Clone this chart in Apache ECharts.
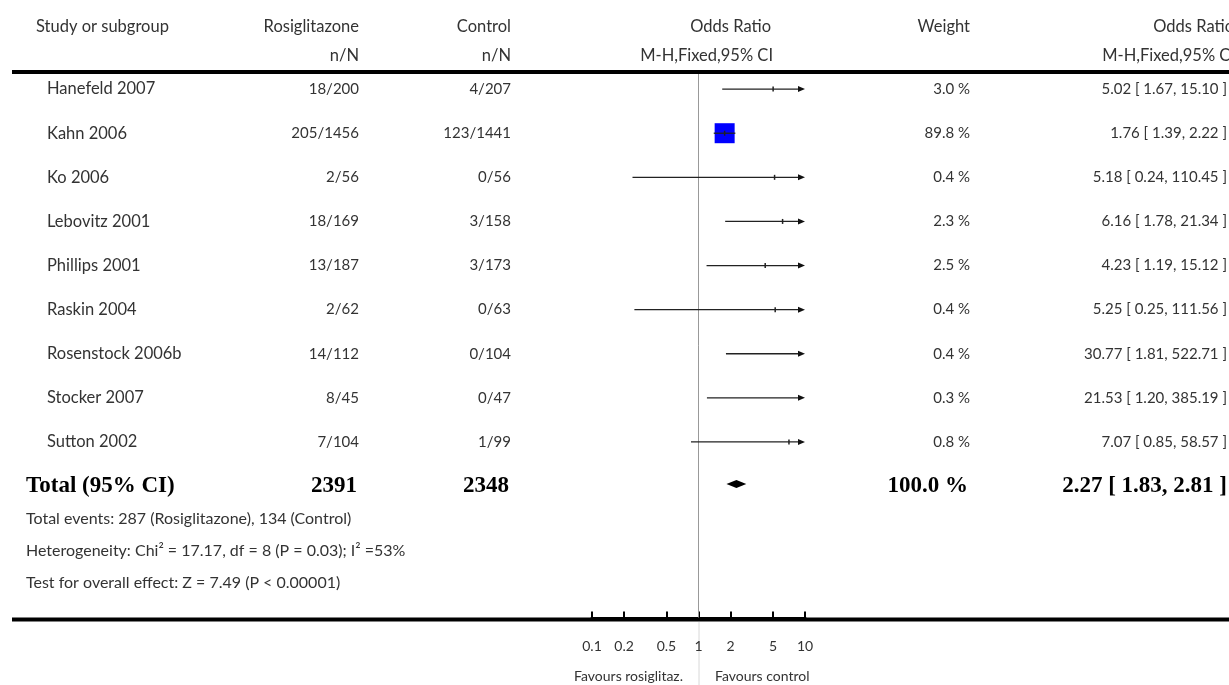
<!DOCTYPE html>
<html><head><meta charset="utf-8">
<script src="https://cdn.jsdelivr.net/npm/echarts@6/dist/echarts.min.js"></script>
<style>html,body{margin:0;padding:0;background:#fff}#c{width:1229px;height:685px}</style>
</head><body><div id="c"></div>
<script>
// ---------- data ----------
const studies = ['Hanefeld 2007','Kahn 2006','Ko 2006','Lebovitz 2001','Phillips 2001','Raskin 2004','Rosenstock 2006b','Stocker 2007','Sutton 2002'];
const rosiN = ['18/200','205/1456','2/56','18/169','13/187','2/62','14/112','8/45','7/104'];
const ctrlN = ['4/207','123/1441','0/56','3/158','3/173','0/63','0/104','0/47','1/99'];
const weights = [3.0, 89.8, 0.4, 2.3, 2.5, 0.4, 0.4, 0.3, 0.8];
const oddsRatio = [5.02, 1.76, 5.18, 6.16, 4.23, 5.25, 30.77, 21.53, 7.07];
const ciLow = [1.67, 1.39, 0.24, 1.78, 1.19, 0.25, 1.81, 1.20, 0.85];
const ciHigh = [15.10, 2.22, 110.45, 21.34, 15.12, 111.56, 522.71, 385.19, 58.57];
const totalLabel = 'Total (95% CI)';
const totalRosi = '2391';
const totalCtrl = '2348';
const totalWeight = 100.0;
const totalOR = 2.27, totalLow = 1.83, totalHigh = 2.81;
const footerLines = [
  'Total events: 287 (Rosiglitazone), 134 (Control)',
  'Heterogeneity: Chi\u00B2 = 17.17, df = 8 (P = 0.03); I\u00B2 =53%',
  'Test for overall effect: Z = 7.49 (P < 0.00001)'
];
const tickValues = [0.1, 0.2, 0.5, 1, 2, 5, 10];
const favoursLeft = 'Favours rosiglitaz.';
const favoursRight = 'Favours control';

// ---------- helpers ----------
const L10 = v => Math.log10(v);
const XMIN = L10(tickValues[0]), XMAX = L10(tickValues[tickValues.length - 1]);
const SANS = 'Lato, "Open Sans", "DejaVu Sans", sans-serif';
const SERIF = '"Liberation Serif", "DejaVu Serif", serif';
const TXT = '#333';
const WORD = 16.5, NUM = 15;
const fmt2 = v => v.toFixed(2);
const orText = (m, l, h) => fmt2(m) + ' [ ' + fmt2(l) + ', ' + fmt2(h) + ' ]';
const totalRow = studies.length;

function txt(x, y, s, align, opts) {
  opts = opts || {};
  return {
    type: 'text', x: x, y: y, silent: true,
    style: {
      text: s, fill: opts.fill || TXT, align: align, verticalAlign: 'middle',
      fontSize: opts.size || WORD, fontFamily: opts.family || SANS, fontWeight: opts.weight || 'normal'
    }
  };
}

const chart = echarts.init(document.getElementById('c'), null, { renderer: 'canvas' });

const studyData = studies.map((s, i) => [i, L10(oddsRatio[i]), L10(ciLow[i]), L10(ciHigh[i]), weights[i]]);
const maxW = Math.max.apply(null, weights);

const option = {
  animation: false,
  backgroundColor: '#fff',
  grid: { left: 592, width: 213, top: 45, height: 573.4 },
  xAxis: {
    type: 'value', min: XMIN, max: XMAX, position: 'bottom',
    splitLine: { show: false },
    axisLine: { show: true, onZero: false, lineStyle: { color: '#000', width: 4 } },
    axisTick: { show: true, inside: true, length: 7, customValues: tickValues.map(L10), lineStyle: { color: '#000', width: 2 } },
    axisLabel: {
      show: true, customValues: tickValues.map(L10), margin: 21, color: TXT, fontSize: 14, fontFamily: SANS,
      formatter: v => { const t = tickValues.find(t => Math.abs(L10(t) - v) < 1e-6); return t === undefined ? '' : String(t); }
    }
  },
  yAxis: { type: 'value', inverse: true, min: -1, max: 12, show: false },
  graphic: [
    { type: 'line', shape: { x1: 12, y1: 72, x2: 1229, y2: 72 }, style: { stroke: '#000', lineWidth: 4 }, z: 10 },
    { type: 'line', shape: { x1: 12, y1: 619.5, x2: 1229, y2: 619.5 }, style: { stroke: '#000', lineWidth: 4 }, z: 10 },
    { type: 'line', shape: { x1: 699, y1: 622, x2: 699, y2: 685 }, style: { stroke: '#d8d8d8', lineWidth: 1 } },
    txt(36, 27, 'Study or subgroup', 'left'),
    txt(359, 27, 'Rosiglitazone', 'right'),
    txt(359, 56, 'n/N', 'right'),
    txt(511, 27, 'Control', 'right'),
    txt(511, 56, 'n/N', 'right'),
    txt(771, 27, 'Odds Ratio', 'right'),
    txt(773, 56, 'M-H,Fixed,95% CI', 'right'),
    txt(970, 27, 'Weight', 'right'),
    txt(1234, 27, 'Odds Ratio', 'right'),
    txt(1235, 56, 'M-H,Fixed,95% CI', 'right'),
    txt(26, 519, footerLines[0], 'left', { size: 16 }),
    txt(26, 551, footerLines[1], 'left', { size: 16 }),
    txt(26, 583, footerLines[2], 'left', { size: 16 }),
    txt(683, 676, favoursLeft, 'right', { size: 14 }),
    txt(715, 676, favoursRight, 'left', { size: 14 })
  ],
  series: [
    {
      type: 'custom', clip: false, z: 5,
      encode: { x: [1, 2, 3], y: 0 },
      data: studyData,
      renderItem: function (params, api) {
        const i = api.value(0);
        const m = api.value(1), lo = api.value(2), hi = api.value(3), w = api.value(4);
        const y = api.coord([0, i])[1];
        const xl = api.coord([Math.max(lo, XMIN), i])[0];
        const xr = api.coord([Math.min(hi, XMAX), i])[0];
        const ch = [];
        const inRange = m >= XMIN && m <= XMAX;
        if (inRange) {
          const s = 20 * Math.sqrt(w / maxW);
          const xm = api.coord([m, i])[0];
          if (s > 6) ch.push({ type: 'rect', shape: { x: xm - s / 2, y: y - s / 2, width: s, height: s }, style: { fill: '#0000ff' } });
        }
        ch.push({ type: 'line', shape: { x1: xl, y1: y, x2: xr - (hi > XMAX ? 3 : 0), y2: y }, style: { stroke: '#222', lineWidth: 1.3 } });
        if (hi > XMAX) ch.push({ type: 'polygon', shape: { points: [[xr, y], [xr - 7, y - 3], [xr - 7, y + 3]] }, style: { fill: '#111' } });
        if (lo < XMIN) ch.push({ type: 'polygon', shape: { points: [[xl, y], [xl + 7, y - 3], [xl + 7, y + 3]] }, style: { fill: '#111' } });
        if (inRange) {
          const xm = api.coord([m, i])[0];
          ch.push({ type: 'line', shape: { x1: xm, y1: y - 2.5, x2: xm, y2: y + 2.5 }, style: { stroke: '#222', lineWidth: 1.5 } });
        }
        ch.push(txt(47, y, studies[i], 'left'));
        ch.push(txt(359, y, rosiN[i], 'right', { size: NUM }));
        ch.push(txt(511, y, ctrlN[i], 'right', { size: NUM }));
        ch.push(txt(970, y, weights[i].toFixed(1) + ' %', 'right', { size: NUM }));
        ch.push(txt(1227, y, orText(oddsRatio[i], ciLow[i], ciHigh[i]), 'right', { size: NUM }));
        return { type: 'group', children: ch };
      }
    },
    {
      type: 'custom', clip: false, z: 4,
      encode: { x: [1, 2, 3], y: 0 },
      data: [[totalRow, L10(totalOR), L10(totalLow), L10(totalHigh)]],
      renderItem: function (params, api) {
        const r = api.value(0);
        const y = api.coord([0, r])[1];
        const xm = api.coord([api.value(1), r])[0];
        const xl = api.coord([api.value(2), r])[0];
        const xr = api.coord([api.value(3), r])[0];
        const x0 = api.coord([0, r])[0];
        const top = api.coord([0, -0.36])[1];
        const bot = api.coord([0, 12])[1];
        const B = { size: 23, family: SERIF, weight: 'bold', fill: '#000' };
        return {
          type: 'group', children: [
            { type: 'line', shape: { x1: x0, y1: top, x2: x0, y2: bot }, style: { stroke: '#999', lineWidth: 1 } },
            { type: 'polygon', shape: { points: [[xl, y - 2], [xm, y - 6], [xr, y - 2], [xm, y + 2]] }, style: { fill: '#000' } },
            txt(26, y, totalLabel, 'left', B),
            txt(357, y, totalRosi, 'right', B),
            txt(509, y, totalCtrl, 'right', B),
            txt(968, y, totalWeight.toFixed(1) + ' %', 'right', B),
            txt(1227, y, orText(totalOR, totalLow, totalHigh), 'right', B)
          ]
        };
      }
    }
  ]
};
chart.setOption(option);
</script>
</body></html>
